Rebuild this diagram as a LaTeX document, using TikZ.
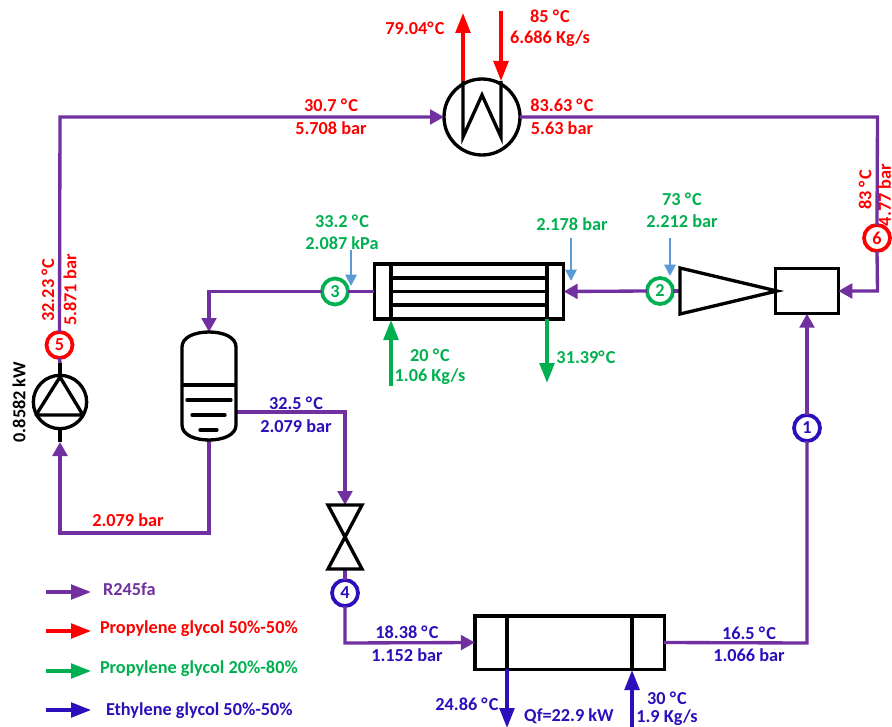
\documentclass[tikz,border=0pt]{standalone}
\usepackage{fontspec}
\setmainfont{Carlito}
\usetikzlibrary{arrows.meta,calc}
\definecolor{pur}{HTML}{7030A0}
\definecolor{rd}{HTML}{FF0000}
\definecolor{grn}{HTML}{00B050}
\definecolor{blu}{HTML}{2A0FBB}
\definecolor{lblu}{HTML}{5B9BD5}
\newcommand{\dgc}{°\kern0.9pt C}
\tikzset{
  x=0.75pt,y=-0.75pt,
  every node/.style={font=\bfseries\fontsize{13.7}{15}\selectfont,inner sep=0pt,outer sep=0pt},
  flow/.style={line width=2.5pt,line join=miter,-{Triangle[length=10.5pt,width=11pt]}},
  plain/.style={line width=2.5pt},
  eq/.style={draw=black,line width=2.5pt,fill=white,rectangle},
  state/.style={draw=#1,text=#1,line width=2.8pt,fill=white,circle,minimum size=19.5pt},
  probe/.style={draw=lblu,line width=1.4pt,-{Triangle[length=8.5pt,width=8.5pt]}},
  lg/.style={line width=2.5pt,-{Triangle[length=15pt,width=11pt]}},
  big/.style={line width=2.6pt,-{Triangle[length=15pt,width=11pt]}},
  blk/.style={draw=black,line width=2.5pt,line join=miter}
}
\begin{document}
\begin{tikzpicture}
\useasboundingbox (0,0) rectangle (892,727);
\clip (0,0) rectangle (892,727);
% equipment nodes
\node[eq,circle,minimum size=57pt] (cond) at (482,117) {};
\node[eq,minimum width=47pt,minimum height=34pt] (mix) at (807,291) {};
\node[eq,minimum width=142pt,minimum height=41pt] (cool) at (469,291.5) {};
\node[eq,minimum width=142pt,minimum height=40pt] (evap) at (569.5,642.5) {};
\node[eq,circle,minimum size=40pt] (pump) at (60,402) {};
\coordinate (vtop) at (209,332);
\coordinate (vbot) at (209,440);
\coordinate (vout) at (236,412);
\coordinate (valvetop) at (345,505);
\coordinate (valvebot) at (345,569);
\coordinate (exptip) at (777,291);
\coordinate (expin) at (680,291);
\coordinate (pumptopstub) at (60,363);
\coordinate (pumpbotstub) at (60,442);
% state nodes
\node[state=blu] (n1) at (807,428) {1};
\node[state=grn] (n2) at (660,291) {2};
\node[state=grn] (n3) at (335,291.5) {3};
\node[state=blu] (n4) at (345,593) {4};
\node[state=rd] (n5) at (59.5,345) {5};
\node[state=rd] (n6) at (877,238) {6};
% working-fluid connectors
\draw[flow,draw=pur] (n5.north) -- (60,117) -- (cond.west);
\draw[plain,draw=pur] (cond.east) -- (877.5,117) -- (n6.north);
\draw[flow,draw=pur] (n6.south) -- (877.5,291) -- (mix.east);
\draw[plain,draw=pur] (n2.east) -- (expin);
\draw[flow,draw=pur] (n2.west) -- (cool.east);
\draw[plain,draw=pur] (cool.west) -- (n3.east);
\draw[flow,draw=pur] (n3.west) -- (209,291.5) -- (vtop);
\draw[flow,draw=pur] (vbot) -- (209,533) -- (60,533) -- (pumpbotstub);
\draw[plain,draw=pur] (n5.south) -- (pumptopstub);
\draw[flow,draw=pur] (vout) -- (345,412) -- (valvetop);
\draw[plain,draw=pur] (valvebot) -- (n4.north);
\draw[flow,draw=pur] (n4.south) -- (345,643) -- (evap.west);
\draw[plain,draw=pur] (evap.east) -- (807,643) -- (n1.south);
\draw[flow,draw=pur] (n1.north) -- (mix.south);
% condenser internals
\coordinate (ca) at (463,81);
\coordinate (cb) at (501,81);
\draw[blk,line join=miter] (ca) -- (463,137) -- (482,95) -- (501,137) -- (cb);
\draw[big,draw=rd] (ca) -- (463,13);
\coordinate (cin) at (501,11);
\draw[big,draw=rd] (cin) -- (cb);
% expander
\draw[blk,fill=white] (680,268) -- (exptip) -- (680,314) -- cycle;
\draw[blk] (exptip) -- (mix.west);
% cooler internals
\foreach \yy in {278,291.5,305} \draw[blk] (391,\yy) -- (547,\yy);
\draw[blk] (391,264) -- (391,319);
\draw[blk] (547,264) -- (547,319);
\coordinate (gin) at (391,386);
\coordinate (gout) at (547,383);
\draw[big,draw=grn] (gin) -- (391,320);
\draw[big,draw=grn] (547,319) -- (gout);
% evaporator internals
\draw[blk] (507,616) -- (507,669);
\draw[blk] (632,616) -- (632,669);
\coordinate (bout) at (507,728);
\coordinate (bin) at (632,730);
\draw[big,draw=blu] (507,669) -- (bout);
\draw[big,draw=blu] (bin) -- (632,670);
% vessel
\draw[blk,fill=white] (182,347) .. controls (182,337) and (195,332) .. (209,332) .. controls (223,332) and (236,337) .. (236,347) -- (236,425) .. controls (236,435) and (223,440) .. (209,440) .. controls (195,440) and (182,435) .. (182,425) -- cycle;
\draw[blk] (182,385) -- (236,385);
\draw[blk,line cap=round] (187,400) -- (231,400);
\draw[blk,line cap=round] (192,415) -- (225,415);
\draw[blk,line cap=round] (200,430) -- (217,430);
% pump internals
\draw[blk,line join=round] (60,377) -- (36,415) -- (83,415) -- cycle;
\draw[blk] (pumptopstub) -- (pump.north);
\draw[blk] (pump.south) -- (pumpbotstub);
% valve
\draw[blk,fill=white] (328,505) -- (362,505) -- (328,569) -- (362,569) -- cycle;
% probes
\coordinate (p3a) at (351,250); \coordinate (p3b) at (351,286);
\coordinate (p4a) at (571,238); \coordinate (p4b) at (571,281);
\coordinate (p2a) at (670,238); \coordinate (p2b) at (670,276);
\draw[probe] (p3a) -- (p3b);
\draw[probe] (p4a) -- (p4b);
\draw[probe] (p2a) -- (p2b);
% labels
\begin{scope}[text=rd]
\node (l1) at (415,28) {79.04\dgc};
\node (l2) at (550,16) {85 \dgc};
\node (l3) at (550,39) {6.686 Kg/s};
\node (l4) at (562,105) {83.63 \dgc};
\node (l5) at (562,128) {5.63 bar};
\node (l6) at (331,105) {30.7 \dgc};
\node (l7) at (331,128) {5.708 bar};
\node[rotate=90] (l8) at (865,190) {83 \dgc};
\node[rotate=90] (l9) at (884.5,195) {4.77 bar};
\node[rotate=90] (l10) at (48,290) {32.23 \dgc};
\node[rotate=90] (l11) at (70,290) {5.871 bar};
\node (l12) at (128,520) {2.079 bar};
\end{scope}
\begin{scope}[text=grn]
\node (l13) at (342,221) {33.2 \dgc};
\node (l14) at (342,243) {2.087 kPa};
\node (l15) at (572,224) {2.178 bar};
\node (l16) at (682,199) {73 \dgc};
\node (l17) at (682,221) {2.212 bar};
\node (l18) at (430,355) {20 \dgc};
\node (l19) at (430,377) {1.06 Kg/s};
\node (l20) at (586,357) {31.39\dgc};
\end{scope}
\begin{scope}[text=blu]
\node (l21) at (296,403) {32.5 \dgc};
\node (l22) at (296,426) {2.079 bar};
\node (l23) at (407,632) {18.38 \dgc};
\node (l24) at (407,655) {1.152 bar};
\node (l25) at (749,633) {16.5 \dgc};
\node (l26) at (749,655) {1.066 bar};
\node (l27) at (467,704) {24.86 \dgc};
\node (l28) at (569,716) {Qf=22.9 kW};
\node (l29) at (667,698) {30 \dgc};
\node (l30) at (667,718) {1.9 Kg/s};
\end{scope}
\node[rotate=90,text=black] (l31) at (19,402) {0.8582 kW};
% legend
\coordinate (a1) at (46,592); \coordinate (b1) at (91,592);
\coordinate (a2) at (46,631); \coordinate (b2) at (91,631);
\coordinate (a3) at (46,671); \coordinate (b3) at (91,671);
\coordinate (a4) at (46,710); \coordinate (b4) at (91,710);
\draw[lg,draw=pur] (a1) -- (b1);
\draw[lg,draw=rd] (a2) -- (b2);
\draw[lg,draw=grn] (a3) -- (b3);
\draw[lg,draw=blu] (a4) -- (b4);
\node[anchor=west,text=pur] (t1) at (103,589) {R245fa};
\node[anchor=west,text=rd] (t2) at (100,629) {Propylene glycol 50\%-50\%};
\node[anchor=west,text=grn] (t3) at (100,669) {Propylene glycol 20\%-80\%};
\node[anchor=west,text=blu] (t4) at (106,711) {Ethylene glycol 50\%-50\%};
\end{tikzpicture}
\end{document}
